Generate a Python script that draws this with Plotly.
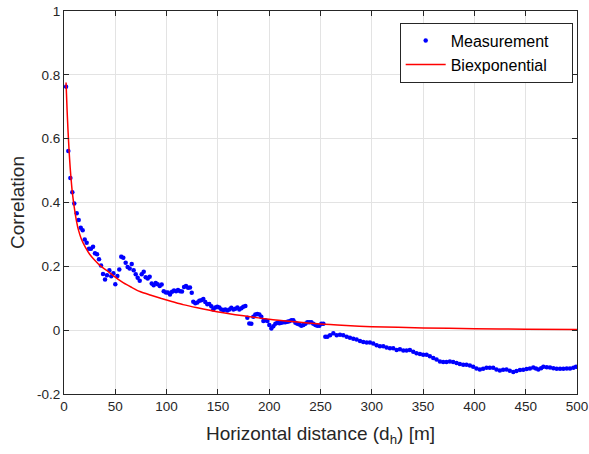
import plotly.graph_objects as go

meas_x = [2.0, 4.2, 6.2, 8.1, 10.0, 12.4, 14.3, 16.3, 18.2, 20.2, 22.1, 24.4, 26.3, 28.3, 30.2, 32.2, 34.1,
          36.1, 38.0, 40.0, 41.9, 44.2, 46.1, 48.1, 50.0, 52.0, 53.9, 55.8, 57.8, 60.1, 62.0, 64.0, 66.0,
          67.9, 69.9, 71.8, 73.8, 75.7, 77.7, 79.6, 81.6, 83.5, 85.5, 87.4, 89.4, 91.3, 93.3, 95.2, 97.2,
          99.4, 101.3, 103.3, 105.3, 107.2, 109.2, 111.1, 113.1, 115.0, 117.0, 118.9, 120.9,
          122.8, 124.5, 126.0, 128.0, 130.0, 131.9, 133.8, 135.8, 137.7, 139.7, 141.6, 143.6, 145.5, 147.5,
          149.4, 151.4, 153.3, 155.3, 157.2, 159.2, 161.1, 163.1, 165.1, 167.0, 169.0, 170.9, 172.9, 174.8,
          176.8, 178.7, 180.6, 182.6, 184.5, 186.5, 188.4, 190.4, 192.3, 194.3, 196.2, 198.2, 200.1, 202.1,
          204.0, 206.0, 207.9, 209.9, 211.8, 213.8, 215.7, 217.7, 219.6, 221.6, 223.5, 225.5, 227.4, 229.4,
          231.3, 233.3, 235.2, 237.2, 239.1, 241.1, 243.0, 245.0, 246.9, 248.9, 250.8, 252.8, 254.7, 256.7,
          259.3, 262.5, 265.8, 269.0, 272.2, 275.5, 278.7, 282.0, 285.2, 288.5, 291.7, 295.0, 298.2, 301.4,
          304.7, 307.9, 311.2, 314.4, 317.7, 320.9, 324.2, 327.4, 330.7, 333.9, 337.1, 340.4, 343.6, 346.9,
          350.1, 353.4, 356.6, 359.9, 363.1, 366.4, 369.6, 372.8, 376.1, 379.3, 382.6, 385.8, 389.1, 392.3,
          395.6, 398.8, 402.0, 405.3, 408.5, 411.8, 415.0, 418.3, 421.5, 424.8, 428.0, 431.3, 434.5, 437.9,
          441.0, 444.4, 447.6, 450.9, 454.1, 457.4, 460.0, 462.3, 465.0, 467.2, 470.5, 473.7, 477.0, 480.2,
          483.5, 486.7, 490.0, 493.2, 496.5, 499.0]
meas_y = [0.763, 0.561, 0.477, 0.432, 0.397, 0.366, 0.345, 0.321, 0.313, 0.284, 0.274, 0.255, 0.255, 0.261,
          0.241, 0.238, 0.222, 0.203, 0.176, 0.159, 0.172, 0.188, 0.169, 0.178, 0.144, 0.170, 0.190, 0.230,
          0.227, 0.211, 0.198, 0.193, 0.207, 0.188, 0.175, 0.164, 0.155, 0.175, 0.183, 0.166, 0.162, 0.167,
          0.146, 0.141, 0.148, 0.144, 0.138, 0.143, 0.122, 0.118, 0.118, 0.112, 0.120, 0.124, 0.122, 0.126,
          0.122, 0.121, 0.135, 0.138, 0.133,
          0.134, 0.117, 0.089, 0.084, 0.087, 0.092, 0.094, 0.098, 0.088, 0.081, 0.082, 0.075, 0.065, 0.071,
          0.073, 0.071, 0.065, 0.063, 0.065, 0.062, 0.065, 0.070, 0.065, 0.067, 0.071, 0.065, 0.069, 0.073,
          0.076, 0.039, 0.021, 0.020, 0.042, 0.049, 0.051, 0.049, 0.042, 0.029, 0.031, 0.029, 0.016, 0.005,
          0.012, 0.020, 0.023, 0.022, 0.023, 0.025, 0.025, 0.026, 0.028, 0.031, 0.031, 0.023, 0.020, 0.018,
          0.014, 0.016, 0.020, 0.025, 0.025, 0.025, 0.020, 0.016, 0.014, 0.014, 0.020, 0.020, -0.021, -0.021,
          -0.016, -0.010, -0.016, -0.014, -0.016, -0.021, -0.024, -0.027, -0.029, -0.034, -0.037, -0.039,
          -0.039, -0.042, -0.047, -0.050, -0.050, -0.054, -0.057, -0.057, -0.062, -0.060, -0.064, -0.064,
          -0.062, -0.068, -0.072, -0.075, -0.077, -0.077, -0.082, -0.087, -0.092, -0.098, -0.100, -0.100,
          -0.098, -0.100, -0.103, -0.106, -0.108, -0.108, -0.111, -0.115, -0.120, -0.123, -0.121, -0.118,
          -0.118, -0.118, -0.123, -0.126, -0.124, -0.123, -0.127, -0.131, -0.128, -0.125, -0.124, -0.122,
          -0.120, -0.117, -0.120, -0.123, -0.119, -0.115, -0.116, -0.117, -0.119, -0.121, -0.121, -0.121,
          -0.120, -0.120, -0.118, -0.115]

# Biexponential fitted curve
fit_x = [2, 3, 4, 5, 6, 7, 8, 10, 12, 14, 17, 20.5, 25, 30, 35, 41.6, 50, 58, 66, 74, 84, 95, 105, 116,
         130, 149, 175, 200, 225, 250, 275, 300, 350, 400, 450, 500]
fit_y = [0.776, 0.69, 0.62, 0.56, 0.51, 0.47, 0.435, 0.385, 0.345, 0.315, 0.285, 0.262, 0.238, 0.219,
         0.203, 0.187, 0.166, 0.148, 0.134, 0.121, 0.110, 0.099, 0.090, 0.080, 0.070, 0.058, 0.045, 0.034,
         0.026, 0.019, 0.0145, 0.011, 0.007, 0.0045, 0.003, 0.0022]

x_ticks = [0, 50, 100, 150, 200, 250, 300, 350, 400, 450, 500]
y_ticks = [-0.2, 0, 0.2, 0.4, 0.6, 0.8, 1]
y_tick_text = ["-0.2", "0", "0.2", "0.4", "0.6", "0.8", "1"]

FONT = "Liberation Sans, Arial, Helvetica, sans-serif"
AX = "#262626"
PAD = "\u00a0" * 4  # right padding inside the legend box

fig = go.Figure()
fig.add_trace(go.Scatter(x=meas_x, y=meas_y, mode="markers", name="Measurement" + PAD,
                         marker=dict(color="#0000ff", size=4.5, line=dict(width=0))))
fig.add_trace(go.Scatter(x=fit_x, y=fit_y, mode="lines", name="Biexponential" + PAD,
                         line=dict(color="#ff0000", width=1.5, shape="spline", smoothing=0.6)))

axis_common = dict(showline=True, linecolor=AX, linewidth=1, mirror="ticks", ticks="inside",
                   ticklen=5, tickcolor=AX, showgrid=True, gridcolor="#e3e3e3", gridwidth=1,
                   zeroline=False, automargin=False, tickfont=dict(family=FONT, size=13.5, color=AX))

fig.update_xaxes(range=[0, 500], tickvals=x_ticks, ticktext=[str(v) for v in x_ticks],
                 title=dict(text="Horizontal distance (d<sub>h</sub>) [m]",
                            font=dict(family=FONT, size=19, color=AX), standoff=13),
                 **axis_common)
fig.update_yaxes(range=[-0.2, 1], tickvals=y_ticks, ticktext=y_tick_text,
                 title=dict(text="Correlation", font=dict(family=FONT, size=19, color=AX), standoff=7),
                 **axis_common)

fig.update_layout(
    width=589, height=454,
    margin=dict(l=64, r=12, t=11, b=60),
    paper_bgcolor="white", plot_bgcolor="white",
    font=dict(family=FONT, color=AX),
    legend=dict(x=0.9916, y=0.9695, xanchor="right", yanchor="top",
                bgcolor="white", bordercolor=AX, borderwidth=1,
                font=dict(family=FONT, size=16, color="#000000"),
                tracegroupgap=0, itemwidth=40),
    showlegend=True,
)

fig.write_html("out.html")
